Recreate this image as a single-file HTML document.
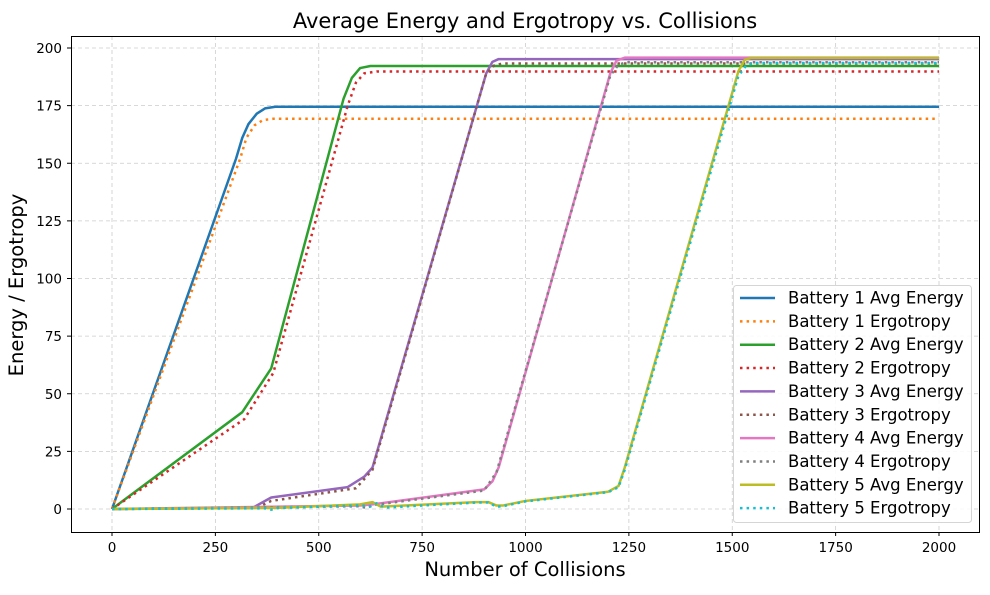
<!DOCTYPE html>
<html><head><meta charset="utf-8"><style>
body{margin:0;background:#fff;}
svg text{font-family:"DejaVu Sans","Liberation Sans",sans-serif;fill:#000;}
</style></head><body>
<svg id="chart" width="990" height="590" xmlns="http://www.w3.org/2000/svg">
<rect width="990" height="590" fill="#fff"/>
<text x="525" y="28" text-anchor="middle" font-size="21">Average Energy and Ergotropy vs. Collisions</text>
<g id="grid"></g>
<g id="series"></g>
<rect x="71.5" y="36.5" width="908" height="496" fill="none" stroke="#000" stroke-width="1"/>
<g id="ticks"></g>
<text x="525" y="576" text-anchor="middle" font-size="19.5">Number of Collisions</text>
<text transform="translate(23,285) rotate(-90)" text-anchor="middle" font-size="19.5">Energy / Ergotropy</text>
<g id="legend"></g>
</svg>
<script>
const xTicks=[0,250,500,750,1000,1250,1500,1750,2000];
const yTicks=[0,25,50,75,100,125,150,175,200];
const seriesNames=["Battery 1 Avg Energy","Battery 1 Ergotropy","Battery 2 Avg Energy","Battery 2 Ergotropy","Battery 3 Avg Energy","Battery 3 Ergotropy","Battery 4 Avg Energy","Battery 4 Ergotropy","Battery 5 Avg Energy","Battery 5 Ergotropy"];
const b1Energy=[[0,0],[300,152],[315,161],[330,167],[350,171.5],[370,173.8],[395,174.5],[2000,174.5]];
const b1Ergo=[[0,0],[310,152],[325,161],[345,166.5],[365,168.7],[390,169.3],[2000,169.3]];
const b2Energy=[[0,0],[315,42],[385,61],[560,178],[580,187],[600,191.3],[625,192.2],[2000,192.2]];
const b2Ergo=[[0,0],[320,39],[390,59],[570,175],[590,185],[610,189],[640,189.8],[2000,189.8]];
const b3Energy=[[0,0],[340,0.5],[385,5],[570,9.5],[610,14],[630,18],[905,189],[920,194],[935,195.2],[2000,195.2]];
const b3Ergo=[[0,0],[350,0.5],[385,3.5],[590,9],[630,17],[905,189],[925,192.5],[945,193.3],[2000,193.3]];
const b4Energy=[[0,0],[600,1.5],[630,2],[900,8.5],[920,12],[935,18],[1205,189],[1220,194.5],[1240,195.8],[2000,195.8]];
const b4Ergo=[[0,0],[600,1.2],[615,0.4],[635,1.8],[900,8],[930,16],[1205,188],[1225,192.8],[1245,193.8],[2000,193.8]];
const b5Energy=[[0,0],[400,0.5],[600,2],[630,3],[650,1],[880,3],[910,3],[930,1.5],[945,1.5],[1000,3.5],[1200,7.5],[1225,10],[1240,18],[1515,190],[1530,194.8],[1545,195.7],[2000,195.7]];
const b5Ergo=[[0,0],[370,0.3],[385,-0.3],[400,0.4],[600,1.6],[625,1.2],[640,2.5],[660,0.6],[880,2.8],[910,2.8],[930,1],[945,1.2],[1000,3.3],[1200,7.3],[1225,9.5],[1240,17],[1515,188],[1535,192.7],[1555,193.5],[2000,193.5]];
const seriesData=[b1Energy,b1Ergo,b2Energy,b2Ergo,b3Energy,b3Ergo,b4Energy,b4Ergo,b5Energy,b5Ergo];
const colors=["#1f77b4","#ff7f0e","#2ca02c","#d62728","#9467bd","#8c564b","#e377c2","#7f7f7f","#bcbd22","#17becf"];
const NS="http://www.w3.org/2000/svg";
function xs(v){return 112+v*(939-112)/2000;}
function ys(v){return 509-v*(509-48)/200;}
function mk(tag,attrs,parent){const e=document.createElementNS(NS,tag);for(const k in attrs)e.setAttribute(k,attrs[k]);parent.appendChild(e);return e;}
const grid=document.getElementById('grid'),ticks=document.getElementById('ticks'),ser=document.getElementById('series'),leg=document.getElementById('legend');
xTicks.forEach(t=>{const x=xs(t);
 const g=mk('line',{x1:x,x2:x,y1:36,y2:532,stroke:'#cccccc','stroke-dasharray':'4,3','stroke-width':0.8},grid);
 
 
 mk('line',{x1:x,x2:x,y1:532,y2:536,stroke:'#000'},ticks);
 const tx=mk('text',{x:x,y:552,'text-anchor':'middle','font-size':13.5},ticks);tx.textContent=t;
 
 
});
yTicks.forEach(t=>{const y=ys(t);
 const g=mk('line',{x1:71,x2:979,y1:y,y2:y,stroke:'#cccccc','stroke-dasharray':'4,3','stroke-width':0.8},grid);
 
 
 mk('line',{x1:67,x2:71,y1:y,y2:y,stroke:'#000'},ticks);
 const tx=mk('text',{x:62,y:y+5,'text-anchor':'end','font-size':13.5},ticks);tx.textContent=t;
 
 
});
seriesData.forEach((d,i)=>{
 const dotted=i%2===1;
 const p=mk('polyline',{points:d.map(q=>xs(q[0])+','+ys(q[1])).join(' '),fill:'none',stroke:colors[i],'stroke-width':2.5,'stroke-linejoin':'round'},ser);
 if(dotted)p.setAttribute('stroke-dasharray','2.5,4.1');
 
 
});
const lb=mk('rect',{x:733.5,y:285.5,width:238,height:237,rx:3,fill:'#fff','fill-opacity':0.85,stroke:'#d5d5d5'},leg);


seriesNames.forEach((n,i)=>{const y=298+i*23.35;
 const g=mk('g',{},leg);
 
 
 const l=mk('line',{x1:740,x2:775,y1:y,y2:y,stroke:colors[i],'stroke-width':2.5},g);
 if(i%2===1)l.setAttribute('stroke-dasharray','2.5,4.1');
 const t=mk('text',{x:788,y:y+5.5,'font-size':16.5},g);t.textContent=n;
});
</script>
</body></html>
